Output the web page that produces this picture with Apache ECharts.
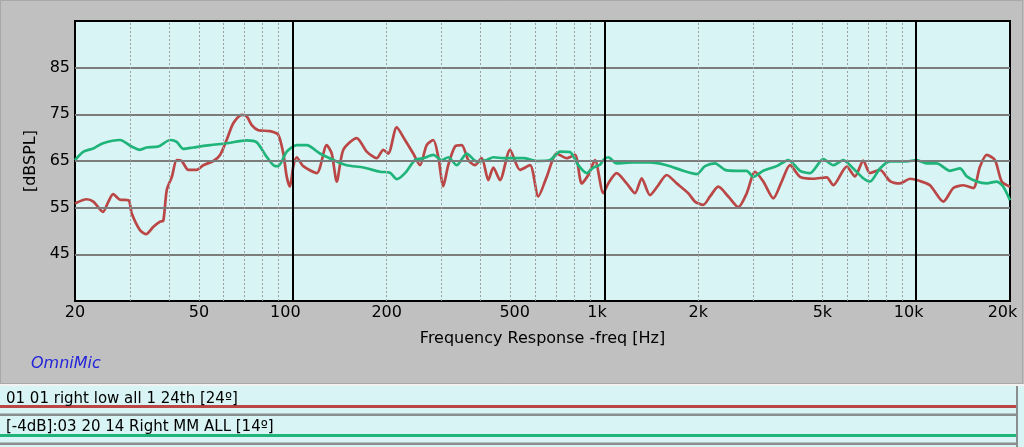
<!DOCTYPE html>
<html><head><meta charset="utf-8">
<script src="https://cdn.jsdelivr.net/npm/echarts@6/dist/echarts.min.js"></script>
<style>html,body{margin:0;padding:0;background:#c0c0c0;overflow:hidden}#c{width:1024px;height:447px}</style>
</head><body><div id="c"></div>
<script>
// ---- data ----
const redFreq = [20,21.8,22.9,24.6,25.6,26.5,27.9,29.7,30.4,32.3,33.8,35.7,37.5,38.4,39.4,40.9,42.4,44.0,46.2,49.1,51.6,55.6,58.4,61.3,64.4,68.5,71.1,73.8,77.5,84.5,89.8,93.2,95.6,97.9,100.3,102.9,108.0,119.3,128.4,133.3,138.3,145.2,160.3,172.6,185.8,195.1,202.4,215.4,229.0,243.4,255.8,268.8,282.2,292.8,303.8,315.2,331.4,348.2,365.4,384.0,403.6,423.8,439.8,462.0,497.4,535.6,576.8,613.2,652.4,702.6,756.4,804.2,845.0,887.2,932.2,991.2,1028,1094,1178,1253,1316,1399,1487,1583,1705,1857,1951,2074,2180,2318,2496,2688,2860,3040,3232,3480,3702,3938,4240,4678,5162,5420,5984,6362,6764,7108,7652,8242,8872,9552,10284,11072,12220,13158,14164,15250,16024,16836,17898,18808,20000];
const redDb = [55.9,56.8,56.3,54.1,56.3,57.9,56.7,56.6,53.8,50.2,49.3,50.9,52.0,52.2,58.8,61.6,65.2,65.0,63.1,63.1,64.1,65.0,66.3,69.5,73.1,74.9,74.6,72.7,71.6,71.4,70.6,66.6,61.6,59.5,63.8,65.8,63.9,62.4,68.4,66.6,60.6,67.4,69.9,67.0,65.6,67.4,66.6,72.2,69.5,66.6,64.1,68.4,69.5,65.9,59.6,64.1,68.1,68.4,65.2,64.1,65.6,60.9,63.6,60.9,67.4,63.1,64.1,57.4,61.6,66.6,65.6,66.3,60.2,62.0,65.2,58.1,60.2,62.4,60.2,58.1,61.3,57.7,59.8,62.0,60.2,58.1,56.3,55.6,57.4,59.5,57.4,55.1,58.1,62.7,60.6,57.0,60.6,64.1,61.6,61.2,61.5,59.8,63.8,61.7,65.1,62.4,63.1,60.7,60.2,61.2,60.7,59.8,56.3,59.2,59.8,59.2,63.8,66.3,65.2,60.6,59.5];
const greenFreq = [20,21.3,22.9,24.6,27.9,30.4,32.3,34.0,37.0,40.4,42.4,44.5,47.9,54.2,61.3,71.1,76.6,82.4,87.7,89.8,95.6,102.9,110.8,122.2,138.3,148.8,168.3,190.4,205.0,215.4,229.0,246.6,262.2,282.2,300.4,315.2,335.6,361.2,389.0,418.8,439.8,473.4,549.0,606.0,668.6,719.8,775.0,824.0,876.6,920.6,967.4,991.2,1028,1094,1237,1399,1583,1790,1976,2102,2262,2436,2656,2860,3002,3232,3568,3888,4240,4564,5034,5420,5838,6284,6764,7108,7652,8242,9322,10036,10806,11640,12842,13826,14526,15638,16836,18126,19030,20000];
const greenDb = [65.2,67.0,67.7,68.8,69.5,68.1,67.4,67.9,68.1,69.5,69.1,67.6,67.9,68.4,68.8,69.4,69.0,65.9,63.9,63.9,67.0,68.4,68.4,66.6,64.9,64.1,63.6,62.7,62.5,61.1,62.4,65.2,65.6,66.3,65.2,65.8,64.1,66.6,64.9,65.2,65.8,65.6,65.6,65.0,65.2,67.0,66.9,64.1,62.4,63.6,64.2,65.2,65.8,64.5,64.7,64.7,64.1,62.9,62.2,63.9,64.5,63.1,62.9,62.9,61.6,62.9,63.9,65.2,62.9,62.4,65.4,64.1,65.2,63.4,61.3,60.6,63.4,64.9,64.9,65.2,64.5,64.5,62.9,63.4,61.7,60.6,60.2,60.6,59.5,56.6];
const xTickValues = [20,50,100,200,500,1000,2000,5000,10000,20000];
const xTickLabels = ['20','50','100','200','500','1k','2k','5k','10k','20k'];
const yTickValues = [45,55,65,75,85];
const majorFreqs = [100,1000,10000];
const minorFreqs = [30,40,50,60,70,80,90,200,300,400,500,600,700,800,900,2000,3000,4000,5000,6000,7000,8000,9000];
const seriesNames = ['01 01 right low all 1 24th [24\u00BA]','[-4dB]:03 20 14 Right MM ALL [14\u00BA]'];
const brandText = 'OmniMic';
const xAxisTitle = 'Frequency Response -freq [Hz]';
const yAxisTitle = '[dBSPL]';

// ---- style ----
const RED = '#bb4646', GREEN = '#1fb47a', FONT = 'DejaVu Sans';
const labelStyleFor = {100:'l', 1000:'l', 10000:'l', 20000:'l', 500:'r'};

const chart = echarts.init(document.getElementById('c'));
const zip = (a, b) => a.map((v, i) => [v, b[i]]);
chart.setOption({
  animation: false,
  backgroundColor: '#c0c0c0',
  grid: {left: 75, right: 14, top: 21, bottom: 146, show: true,
    backgroundColor: '#d8f4f4', borderColor: '#000', borderWidth: 2},
  xAxis: {
    type: 'log', logBase: 10, min: 20, max: 20000,
    name: xAxisTitle, nameLocation: 'middle', nameGap: 30,
    nameTextStyle: {fontFamily: FONT, fontSize: 16, color: '#000'},
    axisLine: {show: false}, axisTick: {show: false}, splitLine: {show: false}, minorSplitLine: {show: false},
    axisLabel: {
      customValues: xTickValues, margin: 4, fontFamily: FONT, fontSize: 16, color: '#000',
      formatter: function (v) {
        let best = 0;
        xTickValues.forEach((t, i) => { if (Math.abs(Math.log(t / v)) < Math.abs(Math.log(xTickValues[best] / v))) best = i; });
        const st = labelStyleFor[xTickValues[best]];
        return st ? '{' + st + '|' + xTickLabels[best] + '}' : xTickLabels[best];
      },
      rich: {
        l: {fontFamily: FONT, fontSize: 16, color: '#000', padding: [0, 15, 0, 0]},
        r: {fontFamily: FONT, fontSize: 16, color: '#000', padding: [0, 0, 0, 8]}
      }
    }
  },
  yAxis: {
    type: 'value', min: 35, max: 95,
    name: yAxisTitle, nameLocation: 'middle', nameGap: 32, nameRotate: 90,
    nameTextStyle: {fontFamily: FONT, fontSize: 16, color: '#000'},
    axisLine: {show: false}, axisTick: {show: false}, splitLine: {show: false},
    axisLabel: {customValues: yTickValues, margin: 5, fontFamily: FONT, fontSize: 16, color: '#000'}
  },
  series: [
    {type: 'line', data: [], z: 1, silent: true,
      markLine: {silent: true, symbol: 'none', label: {show: false}, animation: false,
        data: [
          ...yTickValues.map(v => ({yAxis: v, lineStyle: {color: '#7c7c7c', width: 2, type: 'solid'}})),
          ...minorFreqs.map(v => ({xAxis: v, lineStyle: {color: '#9aa0a0', width: 1, type: [2, 2]}})),
          ...majorFreqs.map(v => ({xAxis: v, lineStyle: {color: '#000', width: 2, type: 'solid'}}))
        ]}},
    {name: seriesNames[0], type: 'line', data: zip(redFreq, redDb), showSymbol: false, smooth: 0.25, z: 3,
      lineStyle: {color: RED, width: 2.7}, itemStyle: {color: RED}},
    {name: seriesNames[1], type: 'line', data: zip(greenFreq, greenDb), showSymbol: false, smooth: 0.25, z: 4,
      lineStyle: {color: GREEN, width: 2.7}, itemStyle: {color: GREEN}}
  ],
  graphic: [
    {type: 'rect', silent: true, z: -1, shape: {x: 0.5, y: 0.5, width: 1022, height: 383}, style: {fill: 'none', stroke: '#a8a8a8', lineWidth: 1}},
    {type: 'text', silent: true, left: 31, top: 356, style: {text: brandText, fill: '#2424d8', font: 'italic 16px "DejaVu Sans"'}},
    {type: 'rect', silent: true, shape: {x: 0, y: 384, width: 1024, height: 2}, style: {fill: '#f2f2f2'}},
    {type: 'rect', silent: true, shape: {x: 0, y: 386, width: 1024, height: 61}, style: {fill: '#d8f4f4'}},
    {type: 'rect', silent: true, shape: {x: 0, y: 405, width: 1017, height: 3}, style: {fill: RED}},
    {type: 'rect', silent: true, shape: {x: 0, y: 413.5, width: 1017, height: 2.5}, style: {fill: '#8a8e8e'}},
    {type: 'rect', silent: true, shape: {x: 0, y: 434, width: 1017, height: 3}, style: {fill: GREEN}},
    {type: 'rect', silent: true, shape: {x: 0, y: 442.5, width: 1017, height: 2.5}, style: {fill: '#8a8e8e'}},
    {type: 'rect', silent: true, shape: {x: 1016, y: 386, width: 2, height: 61}, style: {fill: '#8a8e8e'}},
    {type: 'text', silent: true, x: 6, y: 399, style: {text: seriesNames[0], fill: '#000', font: '15px "DejaVu Sans"', verticalAlign: 'middle'}},
    {type: 'text', silent: true, x: 6, y: 427.5, style: {text: seriesNames[1], fill: '#000', font: '15px "DejaVu Sans"', verticalAlign: 'middle'}}
  ]
});
</script></body></html>
